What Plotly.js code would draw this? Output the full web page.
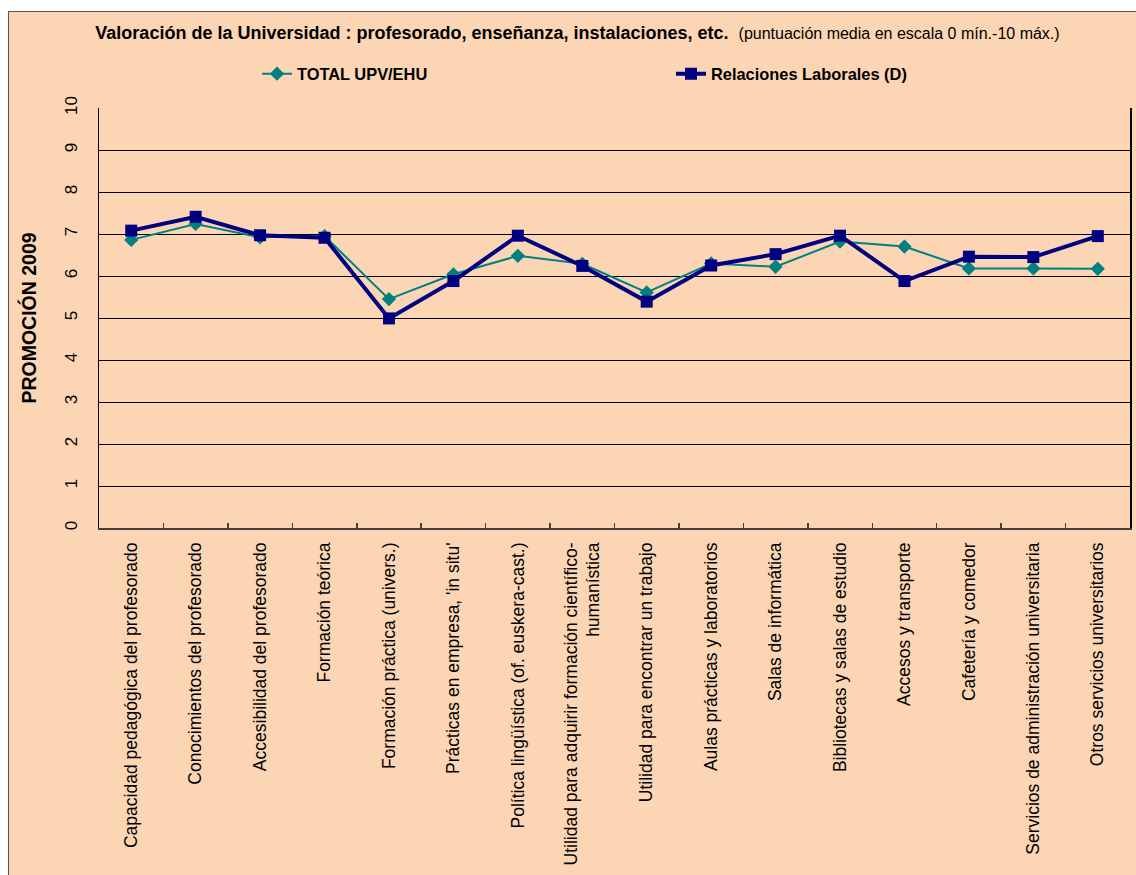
<!DOCTYPE html>
<html>
<head>
<meta charset="utf-8">
<script src="https://cdn.plot.ly/plotly-3.0.1.min.js"></script>
<style>
  html, body { margin: 0; padding: 0; background: #ffffff; }
  #chart { position: absolute; left: 8px; top: 11px; width: 1128px; height: 864px;
           border-left: 1px solid #555555; border-top: 1px solid #555555; }
</style>
</head>
<body>
<div id="chart"></div>
<script>
const categories = [
  "Capacidad pedagógica del profesorado",
  "Conocimientos del profesorado",
  "Accesibilidad del profesorado",
  "Formación teórica",
  "Formación práctica (univers.)",
  "Prácticas en empresa, 'in situ'",
  "Política lingüística (of. euskera-cast.)",
  "Utilidad para adquirir formación científico-<br>humanística",
  "Utilidad para encontrar un trabajo",
  "Aulas prácticas y laboratorios",
  "Salas de informática",
  "Bibliotecas y salas de estudio",
  "Accesos y transporte",
  "Cafetería y comedor",
  "Servicios de administración universitaria",
  "Otros servicios universitarios"
];
const totalUPV = [6.86, 7.24, 6.92, 6.95, 5.45, 6.04, 6.48, 6.29, 5.61, 6.30, 6.22, 6.82, 6.70, 6.18, 6.18, 6.17];
const relacionesLaborales = [7.08, 7.41, 6.97, 6.91, 4.99, 5.88, 6.96, 6.24, 5.39, 6.25, 6.52, 6.96, 5.88, 6.46, 6.45, 6.95];
const yTicks = [0, 1, 2, 3, 4, 5, 6, 7, 8, 9, 10];

const FONT = "Arial, 'Liberation Sans', sans-serif";

const traces = [
  {
    x: categories, y: totalUPV, name: "TOTAL UPV/EHU", type: "scatter", mode: "lines+markers",
    line: { color: "#008080", width: 2 },
    marker: { symbol: "diamond", size: 11, color: "#008080" },
    legend: "legend"
  },
  {
    x: categories, y: relacionesLaborales, name: "Relaciones Laborales (D)", type: "scatter", mode: "lines+markers",
    line: { color: "#000080", width: 4 },
    marker: { symbol: "square", size: 12, color: "#000080" },
    legend: "legend2"
  }
];

const layout = {
  width: 1127, height: 863,
  paper_bgcolor: "#FCD5B4",
  plot_bgcolor: "#FCD5B4",
  margin: { l: 90, r: 6, t: 96, b: 347 },
  font: { family: FONT, color: "#000000" },
  showlegend: true,
  title: {
    text: "<b>Valoración de la Universidad : profesorado, enseñanza, instalaciones, etc.</b>  <span style='font-size:16px'>(puntuación media en escala 0 mín.-10 máx.)</span>",
    font: { family: FONT, size: 18, color: "#000000" },
    xref: "container", yref: "container",
    x: 568.5 / 1127, xanchor: "center",
    y: 1 - 21 / 863, yanchor: "middle"
  },
  legend: {
    orientation: "h", x: 248 / 1127, xref: "container", xanchor: "left",
    y: 1 - 62 / 863, yref: "container", yanchor: "middle",
    bgcolor: "rgba(0,0,0,0)",
    font: { family: FONT, size: 16.4, color: "#000000", weight: "bold" }
  },
  legend2: {
    orientation: "h", x: 662 / 1127, xref: "container", xanchor: "left",
    y: 1 - 62 / 863, yref: "container", yanchor: "middle",
    bgcolor: "rgba(0,0,0,0)",
    font: { family: FONT, size: 16.4, color: "#000000", weight: "bold" }
  },
  xaxis: {
    type: "category",
    range: [-0.5, categories.length - 0.5],
    tickangle: -90,
    tickson: "boundaries",
    ticks: "inside", ticklen: 5, tickcolor: "#404040", tickwidth: 1.5,
    showgrid: false,
    showline: true, linecolor: "#404040", linewidth: 1.5,
    tickfont: { family: FONT, size: 17.5, color: "#000000" },
    ticklabelstandoff: 6,
    automargin: false,
    fixedrange: true
  },
  yaxis: {
    range: [0, 10],
    tickvals: yTicks,
    ticktext: yTicks.map(String),
    tickangle: -90,
    ticks: "",
    showgrid: true, gridcolor: "#000000", gridwidth: 1,
    zeroline: false,
    showline: true, linecolor: "#000000", linewidth: 1.5, mirror: true,
    tickfont: { family: FONT, size: 17, color: "#000000" },
    ticklabelstandoff: 14,
    title: { text: "<b>PROMOCIÓN 2009</b>", font: { family: FONT, size: 19.5, color: "#000000" }, standoff: 20 },
    automargin: false,
    fixedrange: true
  }
};

Plotly.newPlot("chart", traces, layout, { displayModeBar: false, staticPlot: true });
</script>
</body>
</html>
